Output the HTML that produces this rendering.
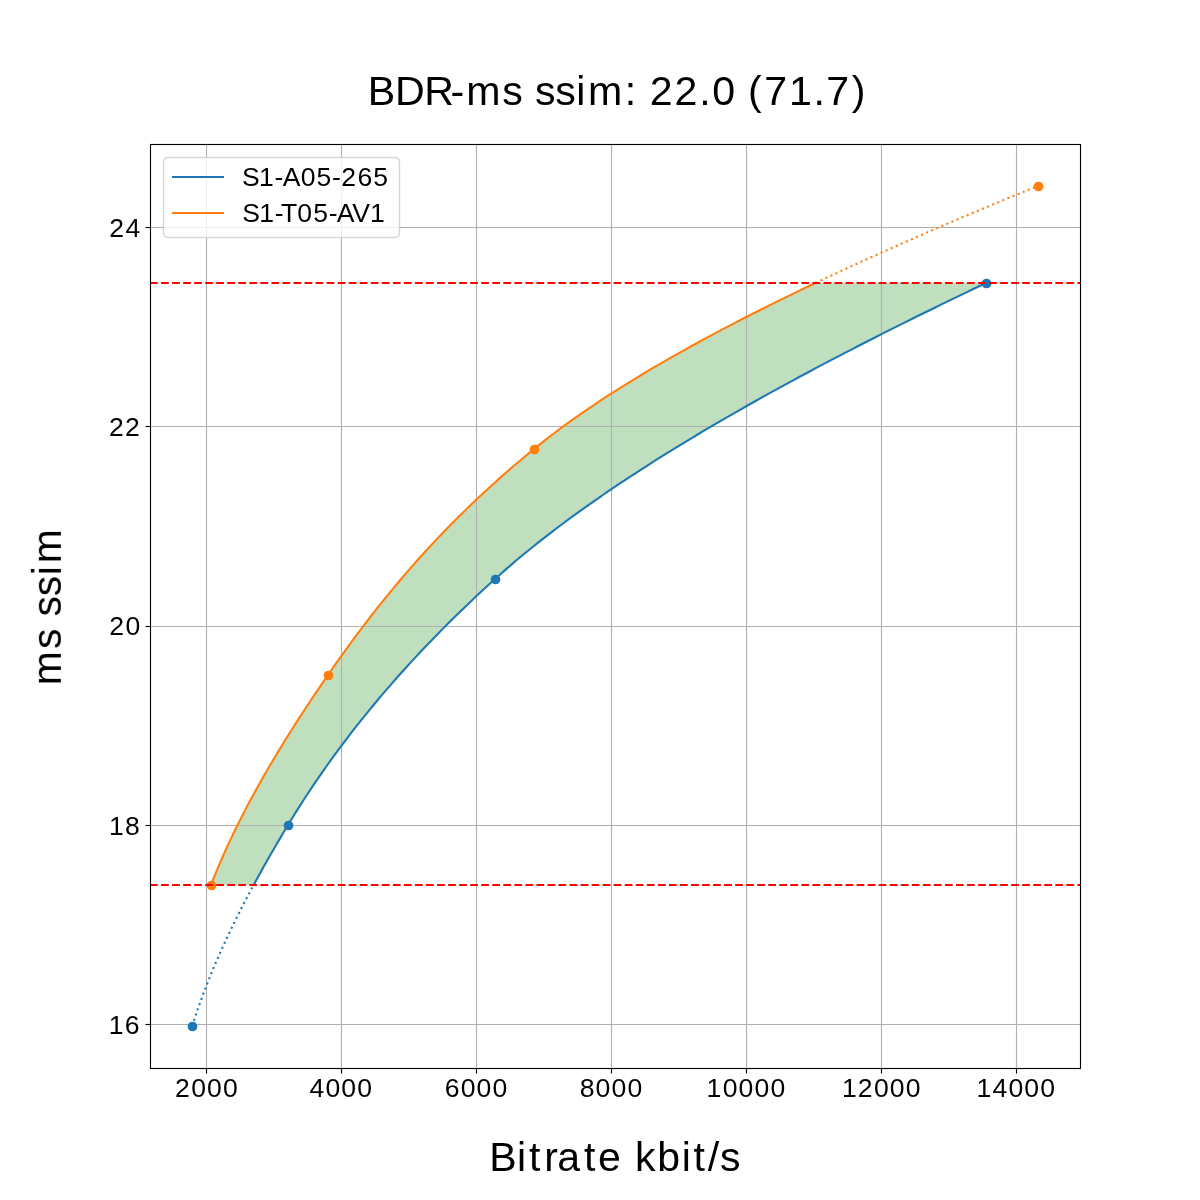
<!DOCTYPE html>
<html lang="en">
<head>
<meta charset="utf-8">
<title>BDR-ms ssim: 22.0 (71.7)</title>
<style>
html,body{margin:0;padding:0;background:#fff;}
body{width:1200px;height:1200px;overflow:hidden;}
svg{display:block;}
text{font-family:"Liberation Sans",sans-serif;fill:#000;}
.labels{opacity:0.999;}
.grid line{stroke:#b0b0b0;stroke-width:1.11;}
.tick line{stroke:#000;stroke-width:1.11;}
.curve{fill:none;stroke-width:2.083;stroke-linejoin:round;}
.sol{stroke-linecap:square;}
.dot{stroke-dasharray:2.083 3.4375;}
.lim{stroke:#f00;stroke-width:2.083;stroke-dasharray:7.708 3.333;}
.c0{stroke:#1f77b4;}.c1{stroke:#ff7f0e;}
.m0{fill:#1f77b4;}.m1{fill:#ff7f0e;}
</style>
</head>
<body>
<svg width="1200" height="1200" viewBox="0 0 1200 1200">
<rect width="1200" height="1200" fill="#fff"/>
<!-- BD-rate area between curves -->
<path d="M253.63 885 L255.27 881.97 L256.92 878.95 L258.58 875.92 L260.25 872.9 L261.93 869.87 L263.62 866.85 L265.32 863.82 L267.03 860.8 L268.75 857.77 L270.49 854.75 L272.23 851.72 L273.98 848.7 L275.74 845.67 L277.51 842.65 L279.28 839.62 L281.07 836.6 L282.87 833.57 L284.67 830.55 L286.48 827.52 L288.3 824.5 L290.14 821.47 L291.99 818.45 L293.85 815.42 L295.73 812.4 L297.63 809.37 L299.55 806.35 L301.48 803.32 L303.42 800.3 L305.39 797.27 L307.37 794.25 L309.36 791.22 L311.38 788.2 L313.41 785.17 L315.45 782.15 L317.52 779.12 L319.6 776.1 L321.7 773.07 L323.81 770.05 L325.94 767.02 L328.09 763.99 L330.26 760.97 L332.44 757.94 L334.64 754.92 L336.86 751.89 L339.1 748.87 L341.35 745.84 L343.62 742.82 L345.91 739.79 L348.22 736.77 L350.54 733.74 L352.89 730.72 L355.25 727.69 L357.63 724.67 L360.03 721.64 L362.44 718.62 L364.88 715.59 L367.33 712.57 L369.8 709.54 L372.29 706.52 L374.8 703.49 L377.32 700.47 L379.87 697.44 L382.43 694.42 L385.02 691.39 L387.62 688.37 L390.24 685.34 L392.88 682.32 L395.54 679.29 L398.22 676.27 L400.91 673.24 L403.63 670.22 L406.37 667.19 L409.12 664.17 L411.9 661.14 L414.69 658.12 L417.51 655.09 L420.34 652.07 L423.2 649.04 L426.07 646.02 L428.97 642.99 L431.88 639.96 L434.82 636.94 L437.77 633.91 L440.75 630.89 L443.74 627.86 L446.76 624.84 L449.79 621.81 L452.85 618.79 L455.93 615.76 L459.03 612.74 L462.15 609.71 L465.28 606.69 L468.45 603.66 L471.63 600.64 L474.83 597.61 L478.05 594.59 L481.3 591.56 L484.56 588.54 L487.85 585.51 L491.16 582.49 L494.49 579.46 L497.85 576.44 L501.25 573.41 L504.69 570.39 L508.17 567.36 L511.68 564.34 L515.24 561.31 L518.84 558.29 L522.48 555.26 L526.16 552.24 L529.88 549.21 L533.63 546.19 L537.43 543.16 L541.26 540.14 L545.13 537.11 L549.04 534.09 L552.99 531.06 L556.97 528.04 L560.99 525.01 L565.05 521.98 L569.15 518.96 L573.28 515.93 L577.45 512.91 L581.66 509.88 L585.9 506.86 L590.18 503.83 L594.49 500.81 L598.84 497.78 L603.22 494.76 L607.64 491.73 L612.1 488.71 L616.59 485.68 L621.11 482.66 L625.67 479.63 L630.26 476.61 L634.89 473.58 L639.55 470.56 L644.25 467.53 L648.97 464.51 L653.73 461.48 L658.53 458.46 L663.35 455.43 L668.21 452.41 L673.11 449.38 L678.03 446.36 L682.98 443.33 L687.97 440.31 L692.99 437.28 L698.04 434.26 L703.12 431.23 L708.23 428.21 L713.38 425.18 L718.55 422.16 L723.75 419.13 L728.99 416.11 L734.25 413.08 L739.54 410.06 L744.87 407.03 L750.22 404.01 L755.6 400.98 L761.01 397.95 L766.45 394.93 L771.92 391.9 L777.41 388.88 L782.93 385.85 L788.49 382.83 L794.07 379.8 L799.67 376.78 L805.31 373.75 L810.97 370.73 L816.65 367.7 L822.37 364.68 L828.11 361.65 L833.88 358.63 L839.67 355.6 L845.49 352.58 L851.33 349.55 L857.21 346.53 L863.1 343.5 L869.02 340.48 L874.97 337.45 L880.94 334.43 L886.93 331.4 L892.95 328.38 L898.99 325.35 L905.06 322.33 L911.15 319.3 L917.26 316.28 L923.4 313.25 L929.56 310.23 L935.74 307.2 L941.95 304.18 L948.18 301.15 L954.42 298.13 L960.7 295.1 L966.99 292.08 L973.31 289.05 L979.64 286.03 L986 283 L815.47 283 L809.12 286.03 L802.81 289.05 L796.53 292.08 L790.29 295.1 L784.1 298.13 L777.94 301.15 L771.83 304.18 L765.76 307.2 L759.73 310.23 L753.74 313.25 L747.79 316.28 L741.89 319.3 L736.02 322.33 L730.21 325.35 L724.43 328.38 L718.7 331.4 L713.02 334.43 L707.38 337.45 L701.78 340.48 L696.23 343.5 L690.73 346.53 L685.27 349.55 L679.86 352.58 L674.49 355.6 L669.18 358.63 L663.91 361.65 L658.69 364.68 L653.52 367.7 L648.39 370.73 L643.32 373.75 L638.3 376.78 L633.32 379.8 L628.4 382.83 L623.52 385.85 L618.7 388.88 L613.93 391.9 L609.21 394.93 L604.54 397.95 L599.93 400.98 L595.37 404.01 L590.86 407.03 L586.41 410.06 L582 413.08 L577.66 416.11 L573.37 419.13 L569.13 422.16 L564.95 425.18 L560.82 428.21 L556.75 431.23 L552.74 434.26 L548.78 437.28 L544.88 440.31 L541.04 443.33 L537.26 446.36 L533.53 449.38 L529.85 452.41 L526.2 455.43 L522.58 458.46 L518.99 461.48 L515.44 464.51 L511.91 467.53 L508.42 470.56 L504.96 473.58 L501.53 476.61 L498.12 479.63 L494.75 482.66 L491.41 485.68 L488.09 488.71 L484.81 491.73 L481.55 494.76 L478.32 497.78 L475.12 500.81 L471.95 503.83 L468.8 506.86 L465.68 509.88 L462.59 512.91 L459.52 515.93 L456.48 518.96 L453.47 521.98 L450.48 525.01 L447.52 528.04 L444.58 531.06 L441.67 534.09 L438.78 537.11 L435.91 540.14 L433.07 543.16 L430.25 546.19 L427.46 549.21 L424.69 552.24 L421.94 555.26 L419.21 558.29 L416.51 561.31 L413.82 564.34 L411.16 567.36 L408.52 570.39 L405.9 573.41 L403.3 576.44 L400.73 579.46 L398.17 582.49 L395.63 585.51 L393.11 588.54 L390.61 591.56 L388.13 594.59 L385.66 597.61 L383.22 600.64 L380.79 603.66 L378.38 606.69 L375.99 609.71 L373.61 612.74 L371.25 615.76 L368.91 618.79 L366.58 621.81 L364.27 624.84 L361.98 627.86 L359.7 630.89 L357.43 633.91 L355.18 636.94 L352.95 639.96 L350.73 642.99 L348.52 646.02 L346.32 649.04 L344.14 652.07 L341.97 655.09 L339.82 658.12 L337.67 661.14 L335.54 664.17 L333.42 667.19 L331.31 670.22 L329.21 673.24 L327.13 676.27 L325.05 679.29 L322.98 682.32 L320.92 685.34 L318.87 688.37 L316.82 691.39 L314.79 694.42 L312.76 697.44 L310.74 700.47 L308.74 703.49 L306.74 706.52 L304.75 709.54 L302.77 712.57 L300.81 715.59 L298.85 718.62 L296.9 721.64 L294.96 724.67 L293.04 727.69 L291.12 730.72 L289.22 733.74 L287.32 736.77 L285.44 739.79 L283.57 742.82 L281.71 745.84 L279.86 748.87 L278.02 751.89 L276.2 754.92 L274.39 757.94 L272.58 760.97 L270.8 763.99 L269.02 767.02 L267.26 770.05 L265.51 773.07 L263.77 776.1 L262.04 779.12 L260.33 782.15 L258.63 785.17 L256.95 788.2 L255.28 791.22 L253.62 794.25 L251.98 797.27 L250.35 800.3 L248.73 803.32 L247.13 806.35 L245.54 809.37 L243.97 812.4 L242.41 815.42 L240.87 818.45 L239.34 821.47 L237.83 824.5 L236.34 827.52 L234.85 830.55 L233.39 833.57 L231.94 836.6 L230.5 839.62 L229.09 842.65 L227.68 845.67 L226.3 848.7 L224.93 851.72 L223.58 854.75 L222.24 857.77 L220.92 860.8 L219.62 863.82 L218.34 866.85 L217.07 869.87 L215.82 872.9 L214.59 875.92 L213.37 878.95 L212.18 881.97 L211 885 Z" fill="#008000" fill-opacity="0.25"/>
<g class="grid">
<line x1="206.5" y1="144" x2="206.5" y2="1068"/>
<line x1="341.5" y1="144" x2="341.5" y2="1068"/>
<line x1="476.5" y1="144" x2="476.5" y2="1068"/>
<line x1="611.5" y1="144" x2="611.5" y2="1068"/>
<line x1="746.5" y1="144" x2="746.5" y2="1068"/>
<line x1="881.5" y1="144" x2="881.5" y2="1068"/>
<line x1="1016.5" y1="144" x2="1016.5" y2="1068"/>
<line x1="150" y1="1024.5" x2="1080" y2="1024.5"/>
<line x1="150" y1="825.5" x2="1080" y2="825.5"/>
<line x1="150" y1="626.5" x2="1080" y2="626.5"/>
<line x1="150" y1="426.5" x2="1080" y2="426.5"/>
<line x1="150" y1="227.5" x2="1080" y2="227.5"/>
</g>
<path class="curve sol c0" d="M253.63 885 L255.27 881.97 L256.92 878.95 L258.58 875.92 L260.25 872.9 L261.93 869.87 L263.62 866.85 L265.32 863.82 L267.03 860.8 L268.75 857.77 L270.49 854.75 L272.23 851.72 L273.98 848.7 L275.74 845.67 L277.51 842.65 L279.28 839.62 L281.07 836.6 L282.87 833.57 L284.67 830.55 L286.48 827.52 L288.3 824.5 L290.14 821.47 L291.99 818.45 L293.85 815.42 L295.73 812.4 L297.63 809.37 L299.55 806.35 L301.48 803.32 L303.42 800.3 L305.39 797.27 L307.37 794.25 L309.36 791.22 L311.38 788.2 L313.41 785.17 L315.45 782.15 L317.52 779.12 L319.6 776.1 L321.7 773.07 L323.81 770.05 L325.94 767.02 L328.09 763.99 L330.26 760.97 L332.44 757.94 L334.64 754.92 L336.86 751.89 L339.1 748.87 L341.35 745.84 L343.62 742.82 L345.91 739.79 L348.22 736.77 L350.54 733.74 L352.89 730.72 L355.25 727.69 L357.63 724.67 L360.03 721.64 L362.44 718.62 L364.88 715.59 L367.33 712.57 L369.8 709.54 L372.29 706.52 L374.8 703.49 L377.32 700.47 L379.87 697.44 L382.43 694.42 L385.02 691.39 L387.62 688.37 L390.24 685.34 L392.88 682.32 L395.54 679.29 L398.22 676.27 L400.91 673.24 L403.63 670.22 L406.37 667.19 L409.12 664.17 L411.9 661.14 L414.69 658.12 L417.51 655.09 L420.34 652.07 L423.2 649.04 L426.07 646.02 L428.97 642.99 L431.88 639.96 L434.82 636.94 L437.77 633.91 L440.75 630.89 L443.74 627.86 L446.76 624.84 L449.79 621.81 L452.85 618.79 L455.93 615.76 L459.03 612.74 L462.15 609.71 L465.28 606.69 L468.45 603.66 L471.63 600.64 L474.83 597.61 L478.05 594.59 L481.3 591.56 L484.56 588.54 L487.85 585.51 L491.16 582.49 L494.49 579.46 L497.85 576.44 L501.25 573.41 L504.69 570.39 L508.17 567.36 L511.68 564.34 L515.24 561.31 L518.84 558.29 L522.48 555.26 L526.16 552.24 L529.88 549.21 L533.63 546.19 L537.43 543.16 L541.26 540.14 L545.13 537.11 L549.04 534.09 L552.99 531.06 L556.97 528.04 L560.99 525.01 L565.05 521.98 L569.15 518.96 L573.28 515.93 L577.45 512.91 L581.66 509.88 L585.9 506.86 L590.18 503.83 L594.49 500.81 L598.84 497.78 L603.22 494.76 L607.64 491.73 L612.1 488.71 L616.59 485.68 L621.11 482.66 L625.67 479.63 L630.26 476.61 L634.89 473.58 L639.55 470.56 L644.25 467.53 L648.97 464.51 L653.73 461.48 L658.53 458.46 L663.35 455.43 L668.21 452.41 L673.11 449.38 L678.03 446.36 L682.98 443.33 L687.97 440.31 L692.99 437.28 L698.04 434.26 L703.12 431.23 L708.23 428.21 L713.38 425.18 L718.55 422.16 L723.75 419.13 L728.99 416.11 L734.25 413.08 L739.54 410.06 L744.87 407.03 L750.22 404.01 L755.6 400.98 L761.01 397.95 L766.45 394.93 L771.92 391.9 L777.41 388.88 L782.93 385.85 L788.49 382.83 L794.07 379.8 L799.67 376.78 L805.31 373.75 L810.97 370.73 L816.65 367.7 L822.37 364.68 L828.11 361.65 L833.88 358.63 L839.67 355.6 L845.49 352.58 L851.33 349.55 L857.21 346.53 L863.1 343.5 L869.02 340.48 L874.97 337.45 L880.94 334.43 L886.93 331.4 L892.95 328.38 L898.99 325.35 L905.06 322.33 L911.15 319.3 L917.26 316.28 L923.4 313.25 L929.56 310.23 L935.74 307.2 L941.95 304.18 L948.18 301.15 L954.42 298.13 L960.7 295.1 L966.99 292.08 L973.31 289.05 L979.64 286.03 L986 283"/>
<path class="curve sol c1" d="M211 885 L212.18 881.97 L213.37 878.95 L214.59 875.92 L215.82 872.9 L217.07 869.87 L218.34 866.85 L219.62 863.82 L220.92 860.8 L222.24 857.77 L223.58 854.75 L224.93 851.72 L226.3 848.7 L227.68 845.67 L229.09 842.65 L230.5 839.62 L231.94 836.6 L233.39 833.57 L234.85 830.55 L236.34 827.52 L237.83 824.5 L239.34 821.47 L240.87 818.45 L242.41 815.42 L243.97 812.4 L245.54 809.37 L247.13 806.35 L248.73 803.32 L250.35 800.3 L251.98 797.27 L253.62 794.25 L255.28 791.22 L256.95 788.2 L258.63 785.17 L260.33 782.15 L262.04 779.12 L263.77 776.1 L265.51 773.07 L267.26 770.05 L269.02 767.02 L270.8 763.99 L272.58 760.97 L274.39 757.94 L276.2 754.92 L278.02 751.89 L279.86 748.87 L281.71 745.84 L283.57 742.82 L285.44 739.79 L287.32 736.77 L289.22 733.74 L291.12 730.72 L293.04 727.69 L294.96 724.67 L296.9 721.64 L298.85 718.62 L300.81 715.59 L302.77 712.57 L304.75 709.54 L306.74 706.52 L308.74 703.49 L310.74 700.47 L312.76 697.44 L314.79 694.42 L316.82 691.39 L318.87 688.37 L320.92 685.34 L322.98 682.32 L325.05 679.29 L327.13 676.27 L329.21 673.24 L331.31 670.22 L333.42 667.19 L335.54 664.17 L337.67 661.14 L339.82 658.12 L341.97 655.09 L344.14 652.07 L346.32 649.04 L348.52 646.02 L350.73 642.99 L352.95 639.96 L355.18 636.94 L357.43 633.91 L359.7 630.89 L361.98 627.86 L364.27 624.84 L366.58 621.81 L368.91 618.79 L371.25 615.76 L373.61 612.74 L375.99 609.71 L378.38 606.69 L380.79 603.66 L383.22 600.64 L385.66 597.61 L388.13 594.59 L390.61 591.56 L393.11 588.54 L395.63 585.51 L398.17 582.49 L400.73 579.46 L403.3 576.44 L405.9 573.41 L408.52 570.39 L411.16 567.36 L413.82 564.34 L416.51 561.31 L419.21 558.29 L421.94 555.26 L424.69 552.24 L427.46 549.21 L430.25 546.19 L433.07 543.16 L435.91 540.14 L438.78 537.11 L441.67 534.09 L444.58 531.06 L447.52 528.04 L450.48 525.01 L453.47 521.98 L456.48 518.96 L459.52 515.93 L462.59 512.91 L465.68 509.88 L468.8 506.86 L471.95 503.83 L475.12 500.81 L478.32 497.78 L481.55 494.76 L484.81 491.73 L488.09 488.71 L491.41 485.68 L494.75 482.66 L498.12 479.63 L501.53 476.61 L504.96 473.58 L508.42 470.56 L511.91 467.53 L515.44 464.51 L518.99 461.48 L522.58 458.46 L526.2 455.43 L529.85 452.41 L533.53 449.38 L537.26 446.36 L541.04 443.33 L544.88 440.31 L548.78 437.28 L552.74 434.26 L556.75 431.23 L560.82 428.21 L564.95 425.18 L569.13 422.16 L573.37 419.13 L577.66 416.11 L582 413.08 L586.41 410.06 L590.86 407.03 L595.37 404.01 L599.93 400.98 L604.54 397.95 L609.21 394.93 L613.93 391.9 L618.7 388.88 L623.52 385.85 L628.4 382.83 L633.32 379.8 L638.3 376.78 L643.32 373.75 L648.39 370.73 L653.52 367.7 L658.69 364.68 L663.91 361.65 L669.18 358.63 L674.49 355.6 L679.86 352.58 L685.27 349.55 L690.73 346.53 L696.23 343.5 L701.78 340.48 L707.38 337.45 L713.02 334.43 L718.7 331.4 L724.43 328.38 L730.21 325.35 L736.02 322.33 L741.89 319.3 L747.79 316.28 L753.74 313.25 L759.73 310.23 L765.76 307.2 L771.83 304.18 L777.94 301.15 L784.1 298.13 L790.29 295.1 L796.53 292.08 L802.81 289.05 L809.12 286.03 L815.47 283"/>
<path class="curve dot c0" d="M192.27 1026 L193.18 1023.12 L194.1 1020.24 L195.04 1017.37 L195.99 1014.49 L196.97 1011.61 L197.95 1008.73 L198.96 1005.86 L199.97 1002.98 L201.01 1000.1 L202.06 997.22 L203.12 994.35 L204.21 991.47 L205.3 988.59 L206.41 985.71 L207.54 982.84 L208.68 979.96 L209.83 977.08 L211 974.2 L212.18 971.33 L213.38 968.45 L214.59 965.57 L215.82 962.69 L217.05 959.82 L218.31 956.94 L219.57 954.06 L220.85 951.18 L222.14 948.31 L223.45 945.43 L224.77 942.55 L226.1 939.67 L227.44 936.8 L228.8 933.92 L230.16 931.04 L231.55 928.16 L232.94 925.29 L234.34 922.41 L235.76 919.53 L237.19 916.65 L238.63 913.78 L240.08 910.9 L241.54 908.02 L243.01 905.14 L244.5 902.27 L245.99 899.39 L247.5 896.51 L249.02 893.63 L250.54 890.76 L252.08 887.88 L253.63 885"/>
<path class="curve dot c1" d="M815.47 283 L819.65 281.02 L823.85 279.04 L828.06 277.06 L832.29 275.08 L836.53 273.1 L840.79 271.12 L845.07 269.14 L849.36 267.16 L853.67 265.18 L857.99 263.2 L862.33 261.22 L866.69 259.24 L871.06 257.27 L875.44 255.29 L879.84 253.31 L884.26 251.33 L888.69 249.35 L893.13 247.37 L897.59 245.39 L902.07 243.41 L906.55 241.43 L911.06 239.45 L915.57 237.47 L920.11 235.49 L924.65 233.51 L929.21 231.53 L933.79 229.55 L938.37 227.57 L942.98 225.59 L947.59 223.61 L952.22 221.63 L956.86 219.65 L961.52 217.67 L966.19 215.69 L970.87 213.71 L975.56 211.73 L980.27 209.76 L984.99 207.78 L989.72 205.8 L994.47 203.82 L999.23 201.84 L1004 199.86 L1008.78 197.88 L1013.58 195.9 L1018.38 193.92 L1023.2 191.94 L1028.03 189.96 L1032.88 187.98 L1037.73 186"/>
<g class="m0">
<circle cx="192.5" cy="1026.5" r="4.86"/>
<circle cx="288.5" cy="825.5" r="4.86"/>
<circle cx="495.5" cy="579.5" r="4.86"/>
<circle cx="986.5" cy="283.5" r="4.86"/>
</g>
<g class="m1">
<circle cx="211.5" cy="885.5" r="4.86"/>
<circle cx="328.5" cy="675.5" r="4.86"/>
<circle cx="534.5" cy="449.5" r="4.86"/>
<circle cx="1038.5" cy="186.5" r="4.86"/>
</g>
<line class="lim" x1="150" y1="885" x2="1080" y2="885"/>
<line class="lim" x1="150" y1="283" x2="1080" y2="283"/>
<g class="tick">
<line x1="206.5" y1="1068.5" x2="206.5" y2="1073.5"/>
<line x1="341.5" y1="1068.5" x2="341.5" y2="1073.5"/>
<line x1="476.5" y1="1068.5" x2="476.5" y2="1073.5"/>
<line x1="611.5" y1="1068.5" x2="611.5" y2="1073.5"/>
<line x1="746.5" y1="1068.5" x2="746.5" y2="1073.5"/>
<line x1="881.5" y1="1068.5" x2="881.5" y2="1073.5"/>
<line x1="1016.5" y1="1068.5" x2="1016.5" y2="1073.5"/>
<line x1="150.5" y1="1024.5" x2="145.5" y2="1024.5"/>
<line x1="150.5" y1="825.5" x2="145.5" y2="825.5"/>
<line x1="150.5" y1="626.5" x2="145.5" y2="626.5"/>
<line x1="150.5" y1="426.5" x2="145.5" y2="426.5"/>
<line x1="150.5" y1="227.5" x2="145.5" y2="227.5"/>
</g>
<rect x="150.5" y="144.5" width="930" height="924" fill="none" stroke="#000" stroke-width="1.11"/>
<path d="M168.5 157.5 L394.5 157.5 Q399.5 157.5 399.5 162.5 L399.5 232.5 Q399.5 237.5 394.5 237.5 L168.5 237.5 Q163.5 237.5 163.5 232.5 L163.5 162.5 Q163.5 157.5 168.5 157.5 Z" fill="#fff" fill-opacity="0.8" stroke="#ccc" stroke-opacity="0.8" stroke-width="1.39"/>
<line class="curve c0" stroke-linecap="square" x1="173" y1="177" x2="223" y2="177"/>
<line class="curve c1" stroke-linecap="square" x1="173" y1="213" x2="223" y2="213"/>
<g class="labels">
<text x="367.82 395.11 424.14 450.43 466.2 502.28 522.41 534.89 555.14 576.13 587.99 624.79 637.04 649.81 674.54 699.31 712.15 735.96 748.01 764.33 788.93 813.4 826.15 851.82" y="105" font-size="41.14">BDR-ms ssim: 22.0 (71.7)</text>
<text x="489.18 517.12 528.88 544.21 557.32 583.93 597.98 621.27 634.92 657.31 681.68 693.44 707.71 720.1" y="1171" font-size="41.03">Bitrate kbit/s</text>
<text transform="translate(60.87 0) rotate(-90)" x="-685.15 -649.12 -629.07 -616.51 -596.26 -575.31 -563.36" y="0" font-size="40.83">ms ssim</text>
<text x="174.9 191.13 207.04 222.94" y="1097" font-size="26.55">2000</text>
<text x="309.5 325.4 341.31 357.22" y="1097" font-size="26.55">4000</text>
<text x="444.79 460.7 476.6 492.51" y="1097" font-size="26.55">6000</text>
<text x="579.69 595.6 611.5 627.41" y="1097" font-size="26.55">8000</text>
<text x="706.62 722.66 738.57 754.47 770.38" y="1097" font-size="26.55">10000</text>
<text x="841.94 857.66 873.89 889.8 905.7" y="1097" font-size="26.55">12000</text>
<text x="976.46 992.5 1008.41 1024.32 1040.22" y="1097" font-size="26.55">14000</text>
<text x="109.31 125.55" y="237" font-size="26.55">24</text>
<text x="109 124.91" y="436" font-size="26.55">22</text>
<text x="109.19 125.43" y="635" font-size="26.55">20</text>
<text x="108.89 124.94" y="835" font-size="26.55">18</text>
<text x="108.78 124.83" y="1034" font-size="26.55">16</text>
<text x="241.94 259.02 274.59 282.71 300.69 316.5 332.02 341.19 357.43 373.23" y="186" font-size="26.55">S1-A05-265</text>
<text x="242.17 259.25 274.82 281.03 297.33 313.14 328.67 336.79 352.27 370.11" y="222" font-size="26.55">S1-T05-AV1</text>
</g>
</svg>
</body>
</html>
